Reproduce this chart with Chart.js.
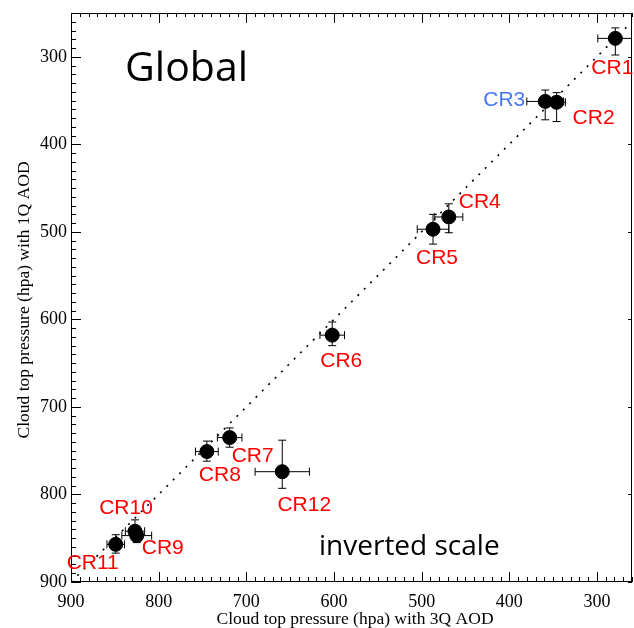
<!DOCTYPE html>
<html>
<head>
<meta charset="utf-8">
<script src="https://cdn.jsdelivr.net/npm/chart.js@4.4.1/dist/chart.umd.min.js"></script>
<style>
  html, body { margin: 0; padding: 0; background: #fff; }
  #wrap { width: 634px; height: 628px; }
</style>
</head>
<body>
<div id="wrap"><canvas id="chart" width="634" height="628"></canvas></div>
<script>
// cloud regimes
const regimes = ['CR1', 'CR2', 'CR3', 'CR4', 'CR5', 'CR6', 'CR7', 'CR8', 'CR9', 'CR10', 'CR11', 'CR12'];
// cloud top pressure (hPa) with 3Q AOD (x) and with 1Q AOD (y)
const ctp3Q = [279, 346, 359, 469, 487, 602, 719, 745, 825, 827, 849, 659];
const ctp1Q = [279, 352, 351, 483, 497, 618, 735, 751, 847, 842, 857, 774];
// error bars (hPa)
const err3Q = [20, 10, 21, 16, 18, 14, 14, 13, 17, 11, 10, 31];
const err1QUp = [12, 11, 13, 15, 17, 15, 11, 12, 8, 13, 11, 36];
const err1QDown = [19, 22, 21, 18, 17, 12, 11, 11, 8, 8, 10, 19];
// 1:1 reference line
const oneToOne = [900, 250];
// tick labels
const xTicks = [900, 800, 700, 600, 500, 400, 300];
const yTicks = [300, 400, 500, 600, 700, 800, 900];

// label placement (pixel offset from marker) and colour
const labelOffsets = [[-3, 30], [37, 16], [-41, -1], [31, -15], [4, 29], [9, 26], [23, 19], [13, 24], [26, 13], [-9, -23], [-23, 19], [22, 34]];
const labelColors = regimes.map(r => r === 'CR3' ? '#4577f6' : '#ff0000');

const SERIF = '"Liberation Serif", "Times New Roman", serif';

// frame, ticks, error bars, labels, titles
const decorPlugin = {
    id: 'decor',
    beforeDatasetsDraw(chart) {
        const { ctx, chartArea: a, scales: { x, y } } = chart;
        ctx.save();
        ctx.beginPath();
        ctx.rect(a.left, a.top, a.right - a.left, a.bottom - a.top);
        ctx.clip();
        ctx.strokeStyle = '#000';
        ctx.lineWidth = 1;
        const cap = 4;
        regimes.forEach((r, i) => {
            const px = x.getPixelForValue(ctp3Q[i]);
            const py = y.getPixelForValue(ctp1Q[i]);
            const xl = x.getPixelForValue(ctp3Q[i] + err3Q[i]);
            const xr = x.getPixelForValue(ctp3Q[i] - err3Q[i]);
            const yt = y.getPixelForValue(ctp1Q[i] - err1QUp[i]);
            const yb = y.getPixelForValue(ctp1Q[i] + err1QDown[i]);
            ctx.beginPath();
            ctx.moveTo(xl, py); ctx.lineTo(xr, py);
            ctx.moveTo(xl, py - cap); ctx.lineTo(xl, py + cap);
            ctx.moveTo(xr, py - cap); ctx.lineTo(xr, py + cap);
            ctx.moveTo(px, yt); ctx.lineTo(px, yb);
            ctx.moveTo(px - cap, yt); ctx.lineTo(px + cap, yt);
            ctx.moveTo(px - cap, yb); ctx.lineTo(px + cap, yb);
            ctx.stroke();
        });
        ctx.restore();
    },
    afterDraw(chart) {
        const { ctx, chartArea: a, scales: { x, y } } = chart;
        ctx.save();
        ctx.strokeStyle = '#000';
        ctx.lineWidth = 1;
        ctx.strokeRect(Math.round(a.left) + 0.5, Math.round(a.top) + 0.5,
            Math.round(a.right - a.left) - 1, Math.round(a.bottom - a.top) - 1);

        // inward ticks, minor every 10 hPa
        ctx.beginPath();
        for (let v = 260; v <= 900; v += 10) {
            const px = Math.round(x.getPixelForValue(v)) + 0.5;
            const major = v % 100 === 0;
            ctx.moveTo(px, a.bottom); ctx.lineTo(px, a.bottom - (major ? 10 : 5));
            ctx.moveTo(px, a.top); ctx.lineTo(px, a.top + (major ? 10 : 4));
        }
        for (let v = 250; v <= 900; v += 10) {
            const py = Math.round(y.getPixelForValue(v)) + 0.5;
            const major = v % 100 === 0;
            ctx.moveTo(a.left, py); ctx.lineTo(a.left + (major ? 10 : 5), py);
            if (major) { ctx.moveTo(a.right, py); ctx.lineTo(a.right - 4, py); }
        }
        ctx.stroke();

        // regime labels
        ctx.font = '21px "Liberation Sans", Arial, sans-serif';
        ctx.textAlign = 'center';
        ctx.textBaseline = 'middle';
        regimes.forEach((r, i) => {
            ctx.fillStyle = labelColors[i];
            ctx.fillText(r, x.getPixelForValue(ctp3Q[i]) + labelOffsets[i][0],
                y.getPixelForValue(ctp1Q[i]) + labelOffsets[i][1]);
        });

        // panel texts
        ctx.fillStyle = '#000';
        ctx.textAlign = 'left';
        ctx.textBaseline = 'alphabetic';
        ctx.font = '41px "Open Sans", sans-serif';
        ctx.fillText('Global', 125, 81);
        ctx.font = '28px "Open Sans", sans-serif';
        ctx.fillText('inverted scale', 319, 555);

        // axis titles
        ctx.font = '17.5px ' + SERIF;
        ctx.textAlign = 'center';
        ctx.fillText('Cloud top pressure (hpa) with 3Q AOD', 355, 624);
        ctx.translate(29, 300);
        ctx.rotate(-Math.PI / 2);
        ctx.fillText('Cloud top pressure (hpa) with 1Q AOD', 0, 0);
        ctx.restore();
    }
};

const ctx = document.getElementById('chart').getContext('2d');
new Chart(ctx, {
    type: 'scatter',
    data: {
        datasets: [
            {
                type: 'line',
                data: oneToOne.map(v => ({ x: v, y: v })),
                borderColor: '#000',
                borderWidth: 1.6,
                borderDash: [2, 7],
                pointRadius: 0,
                fill: false
            },
            {
                data: ctp3Q.map((v, i) => ({ x: v, y: ctp1Q[i] })),
                backgroundColor: '#000',
                borderColor: '#000',
                pointRadius: 7,
                pointHoverRadius: 7
            }
        ]
    },
    options: {
        responsive: false,
        animation: false,
        events: [],
        layout: { autoPadding: false, padding: { top: 13, right: 2, left: 0, bottom: 0 } },
        plugins: { legend: { display: false }, tooltip: { enabled: false } },
        scales: {
            x: {
                type: 'linear',
                reverse: true,
                min: 260,
                max: 900,
                afterBuildTicks: s => { s.ticks = xTicks.map(v => ({ value: v })); },
                afterFit: s => { s.height = 46; s.paddingLeft = 0; s.paddingRight = 0; },
                grid: { display: false, drawTicks: false },
                border: { display: false },
                ticks: { color: '#000', padding: 9, maxRotation: 0, font: { family: SERIF, size: 18 } }
            },
            y: {
                type: 'linear',
                reverse: true,
                min: 250,
                max: 900,
                afterBuildTicks: s => { s.ticks = yTicks.map(v => ({ value: v })); },
                afterFit: s => { s.width = 71; s.paddingTop = 0; s.paddingBottom = 0; },
                grid: { display: false, drawTicks: false },
                border: { display: false },
                ticks: { color: '#000', padding: 4, font: { family: SERIF, size: 18 } }
            }
        }
    },
    plugins: [decorPlugin]
});
</script>
</body>
</html>
